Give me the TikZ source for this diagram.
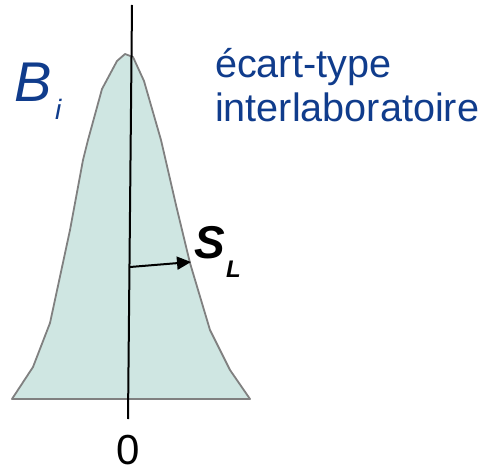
\documentclass[tikz,border=0pt]{standalone}
\usepackage{fontspec}
\setmainfont{Liberation Sans}
\usetikzlibrary{arrows.meta}
\definecolor{curvefill}{RGB}{207,230,226}
\definecolor{curveline}{RGB}{128,128,128}
\definecolor{textblue}{RGB}{16,60,140}
\tikzset{
  curve/.style={fill=curvefill, draw=curveline, line width=1.8pt, line join=round},
  axisline/.style={draw=black, line width=2pt},
  txt/.style={inner sep=0pt, outer sep=0pt},
  bluetxt/.style={txt, text=textblue},
}
\begin{document}
\begin{tikzpicture}[x=1pt,y=-1pt]
\useasboundingbox (0,0) rectangle (487,473);
% distribution shape
\path[curve] (12,399) -- (33,367) -- (50,323) -- (70,230) -- (83,160) -- (88,140) -- (102,89) -- (117,61) -- (125,54) -- (133,57) -- (144,81) -- (161,140) -- (176,205) -- (190,263) -- (210,330) -- (230,370) -- (250,399) -- cycle;
% vertical axis
\coordinate (top) at (132,5);
\coordinate (bot) at (128,419);
\draw[axisline] (top) -- (bot);
% arrow s_L
\coordinate (a0) at (130,267);
\coordinate (a1) at (191,262);
\draw[axisline, -{Triangle[length=14pt,width=13pt]}] (a0) -- (a1);
% labels
\node[txt, anchor=base west] (S) at (194,258) {\fontsize{46}{46}\selectfont\bfseries\itshape S};
\node[txt, anchor=base west] (L) at (226,277) {\fontsize{24}{24}\selectfont\bfseries\itshape L};
\node[bluetxt, anchor=base west] (B) at (14,102) {\fontsize{56}{56}\selectfont\itshape B};
\node[bluetxt, anchor=base west] (i) at (55,120) {\fontsize{28}{28}\selectfont\itshape i};
\node[bluetxt, anchor=base west] (l1) at (215,78) {\fontsize{39.6}{44}\selectfont écart-type};
\node[bluetxt, anchor=base west] (l2) at (215,122) {\fontsize{39.6}{44}\selectfont interlaboratoire};
\node[txt, anchor=base] (zero) at (128,464) {\fontsize{42}{42}\selectfont 0};
\end{tikzpicture}
\end{document}
